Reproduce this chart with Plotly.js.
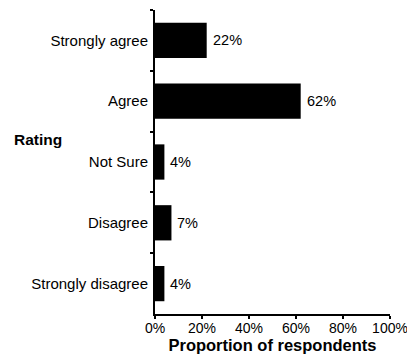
<!DOCTYPE html>
<html>
<head>
<meta charset="utf-8">
<script src="https://cdn.plot.ly/plotly-3.0.1.min.js"></script>
<style>html,body{margin:0;padding:0;background:#fff;}#chart{width:407px;height:355px;}</style>
</head>
<body>
<div id="chart"></div>
<script>
const categories = ["Strongly agree", "Agree", "Not Sure", "Disagree", "Strongly disagree"];
const values = [22, 62, 4, 7, 4];
const valueLabels = ["22%", "62%", "4%", "7%", "4%"];
const xTickValues = [0, 20, 40, 60, 80, 100];
const xTickLabels = ["0%", "20%", "40%", "60%", "80%", "100%"];

const FONT = "Liberation Sans, Arial, Helvetica, sans-serif";

const trace = {
  type: "bar",
  orientation: "h",
  x: values,
  y: categories,
  marker: {color: "#000000", line: {width: 0}},
  hoverinfo: "none"
};

const annotations = categories.map((c, i) => ({
  x: values[i], y: c, xref: "x", yref: "y",
  text: valueLabels[i], showarrow: false,
  xanchor: "left", yanchor: "middle", xshift: 4,
  font: {family: FONT, size: 14.5, color: "#000"}
}));
annotations.push({
  xref: "paper", yref: "paper", x: -0.607, y: 0.575,
  xanchor: "left", yanchor: "middle", showarrow: false,
  text: "<b>Rating</b>", font: {family: FONT, size: 15.5, color: "#000"}
});

const layout = {
  width: 407, height: 355,
  margin: {l: 155, r: 17, t: 10, b: 41, pad: 0},
  paper_bgcolor: "#fff", plot_bgcolor: "#fff",
  font: {family: FONT, size: 14, color: "#000"},
  showlegend: false,
  bargap: 0.42,
  xaxis: {
    range: [0, 100], tickvals: xTickValues, ticktext: xTickLabels,
    showgrid: false, zeroline: false, showline: true, linecolor: "#000", linewidth: 2,
    ticks: "outside", ticklen: 3, tickwidth: 2, tickcolor: "#000",
    tickfont: {family: FONT, size: 14, color: "#000"},
    ticklabeloverflow: "allow",
    ticklabelstandoff: -3,
    title: {text: "<b>Proportion of respondents</b>", font: {family: FONT, size: 16.5, color: "#000"}, standoff: 3},
    fixedrange: true
  },
  yaxis: {
    autorange: "reversed", type: "category",
    showgrid: false, zeroline: false, showline: true, linecolor: "#000", linewidth: 2,
    ticks: "outside", ticklen: 3, tickwidth: 2, tickcolor: "#000", tickson: "boundaries",
    tickfont: {family: FONT, size: 15, color: "#000"},
    ticklabelstandoff: 2,
    fixedrange: true
  },
  annotations: annotations
};

Plotly.newPlot("chart", [trace], layout, {staticPlot: true, displayModeBar: false});
</script>
</body>
</html>
